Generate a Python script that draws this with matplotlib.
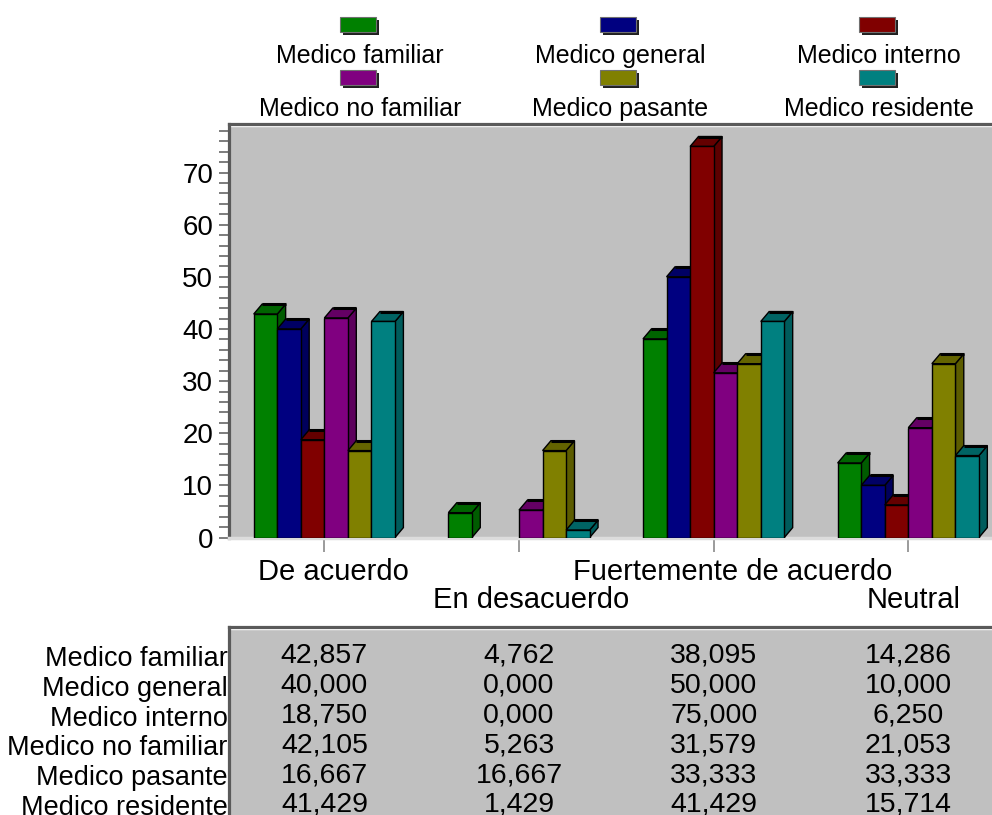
import numpy as np
import matplotlib.pyplot as plt
import matplotlib.colors as mcolors
from matplotlib.patches import Polygon, Rectangle
from matplotlib.ticker import MultipleLocator
from matplotlib.transforms import offset_copy, ScaledTranslation

# Percent of each medico type per answer
categories = ["De acuerdo", "En desacuerdo", "Fuertemente de acuerdo", "Neutral"]
series = ["Medico familiar", "Medico general", "Medico interno",
          "Medico no familiar", "Medico pasante", "Medico residente"]
medico_familiar = [42.857, 4.762, 38.095, 14.286]
medico_general = [40.000, 0.000, 50.000, 10.000]
medico_interno = [18.750, 0.000, 75.000, 6.250]
medico_no_familiar = [42.105, 5.263, 31.579, 21.053]
medico_pasante = [16.667, 16.667, 33.333, 33.333]
medico_residente = [41.429, 1.429, 41.429, 15.714]
values = [medico_familiar, medico_general, medico_interno,
          medico_no_familiar, medico_pasante, medico_residente]
colors = ["#008000", "#000080", "#800000", "#800080", "#808000", "#008080"]

plt.rcParams['font.family'] = ['Liberation Sans', 'DejaVu Sans']

W, H = 992, 815
fig = plt.figure(figsize=(W / 100, H / 100), dpi=100)

frame_col = '#5a5a5a'
panel_col = '#c0c0c0'


def shade(c, f):
    return tuple(np.array(mcolors.to_rgb(c)) * f)


# --- bar chart ---
ax = fig.add_axes([229 / W, 1 - 537.5 / H, (W - 229) / W, (537.5 - 123.5) / H])
ax.set_facecolor(panel_col)
ax.set_xlim(-0.49, 3.43)
ax.set_ylim(0, 79.4)

bar_w = 0.121
dx, dy = 0.043, 1.9
for j in range(len(categories)):
    for i, (vals, col) in enumerate(zip(values, colors)):
        h = vals[j]
        if h <= 0:
            continue
        x0 = j + (i - 3) * bar_w
        x1 = x0 + bar_w
        side = Polygon([(x1, 0), (x1 + dx, dy), (x1 + dx, h + dy), (x1, h)],
                       fc=shade(col, 0.72), ec='black', lw=1.0, zorder=3)
        top = Polygon([(x0, h), (x1, h), (x1 + dx, h + dy), (x0 + dx, h + dy)],
                      fc=shade(col, 0.78), ec='black', lw=1.0, zorder=3)
        front = Rectangle((x0, 0), bar_w, h, fc=col, ec='black', lw=1.0, zorder=3)
        ax.add_patch(side)
        ax.add_patch(top)
        ax.add_patch(front)
        ax.plot([x0 + dx, x1 + dx], [h + dy, h + dy], color='black', lw=2.2,
                solid_capstyle='butt', zorder=3)

for s in ['left', 'top']:
    ax.spines[s].set_color(frame_col)
    ax.spines[s].set_linewidth(2.3)
ax.spines['right'].set_visible(False)
ax.spines['bottom'].set_color('#dcdcdc')
ax.spines['bottom'].set_linewidth(2.5)
ax.plot([0, 1], [1, 1], color='white', lw=1.0,
        transform=offset_copy(ax.transAxes, fig, y=-2.5, units='dots'), clip_on=False)

ax.yaxis.set_major_locator(MultipleLocator(10))
ax.yaxis.set_minor_locator(MultipleLocator(2))
ax.tick_params(axis='y', which='both', direction='out', length=7.5, width=1.1,
               color=frame_col, labelsize=20, pad=4)

ax.set_xticks([0, 2])
ax.set_xticklabels([categories[0], categories[2]])
ax.set_xticks([1, 3], minor=True)
ax.set_xticklabels([categories[1], categories[3]], minor=True)
ax.tick_params(axis='x', which='both', direction='out', length=10, width=1.1,
               color='#808080', labelsize=21)
ax.tick_params(axis='x', which='major', pad=5)
ax.tick_params(axis='x', which='minor', pad=25)

# --- data table ---
tax = fig.add_axes([229 / W, 0, (W - 229) / W, (H - 626.5) / H])
tax.set_facecolor(panel_col)
tax.set_xlim(ax.get_xlim())
tax.set_ylim(5.34, -0.99)
tax.set_xticks([])
tax.set_yticks(range(len(series)))
tax.set_yticklabels(series)
tax.tick_params(axis='y', length=0, pad=1, labelsize=19.5)
for s in ['left', 'top']:
    tax.spines[s].set_color(frame_col)
    tax.spines[s].set_linewidth(2.3)
for s in ['right', 'bottom']:
    tax.spines[s].set_visible(False)
tax.plot([0, 1], [1, 1], color='white', lw=1.0,
         transform=offset_copy(tax.transAxes, fig, y=-2.5, units='dots'), clip_on=False)

for i, vals in enumerate(values):
    for j, v in enumerate(vals):
        tax.text(j, i, f"{v:.3f}".replace('.', ','), ha='center', va='center',
                 fontsize=20.5)

# --- legend ---
lax = fig.add_axes([0, 1 - 124 / H, 1, 124 / H])
lax.set_xlim(0, W)
lax.set_ylim(124, 0)
lax.axis('off')
col_x = [358, 618, 877]
row_sw = [17, 70]
row_txt = [56, 109]
for k, (name, col) in enumerate(zip(series, colors)):
    r, c = divmod(k, 3)
    cx = col_x[c]
    lax.add_patch(Rectangle((cx - 18 + 3, row_sw[r] + 3), 36, 15, fc='#202020', ec='none'))
    lax.add_patch(Rectangle((cx - 18, row_sw[r]), 36, 15, fc=col, ec='#707070', lw=0.8))
    lax.text(cx + 2, row_txt[r], name, ha='center', va='center', fontsize=18)

# category labels sit a little right of their ticks, more so for long ones
fig.canvas.draw()
renderer = fig.canvas.get_renderer()
for lab in ax.get_xticklabels() + ax.get_xticklabels(minor=True):
    shift = 0.06 * lab.get_window_extent(renderer).width / fig.dpi
    lab.set_transform(lab.get_transform() + ScaledTranslation(shift, 0, fig.dpi_scale_trans))

fig.savefig('out.png', dpi=100)
